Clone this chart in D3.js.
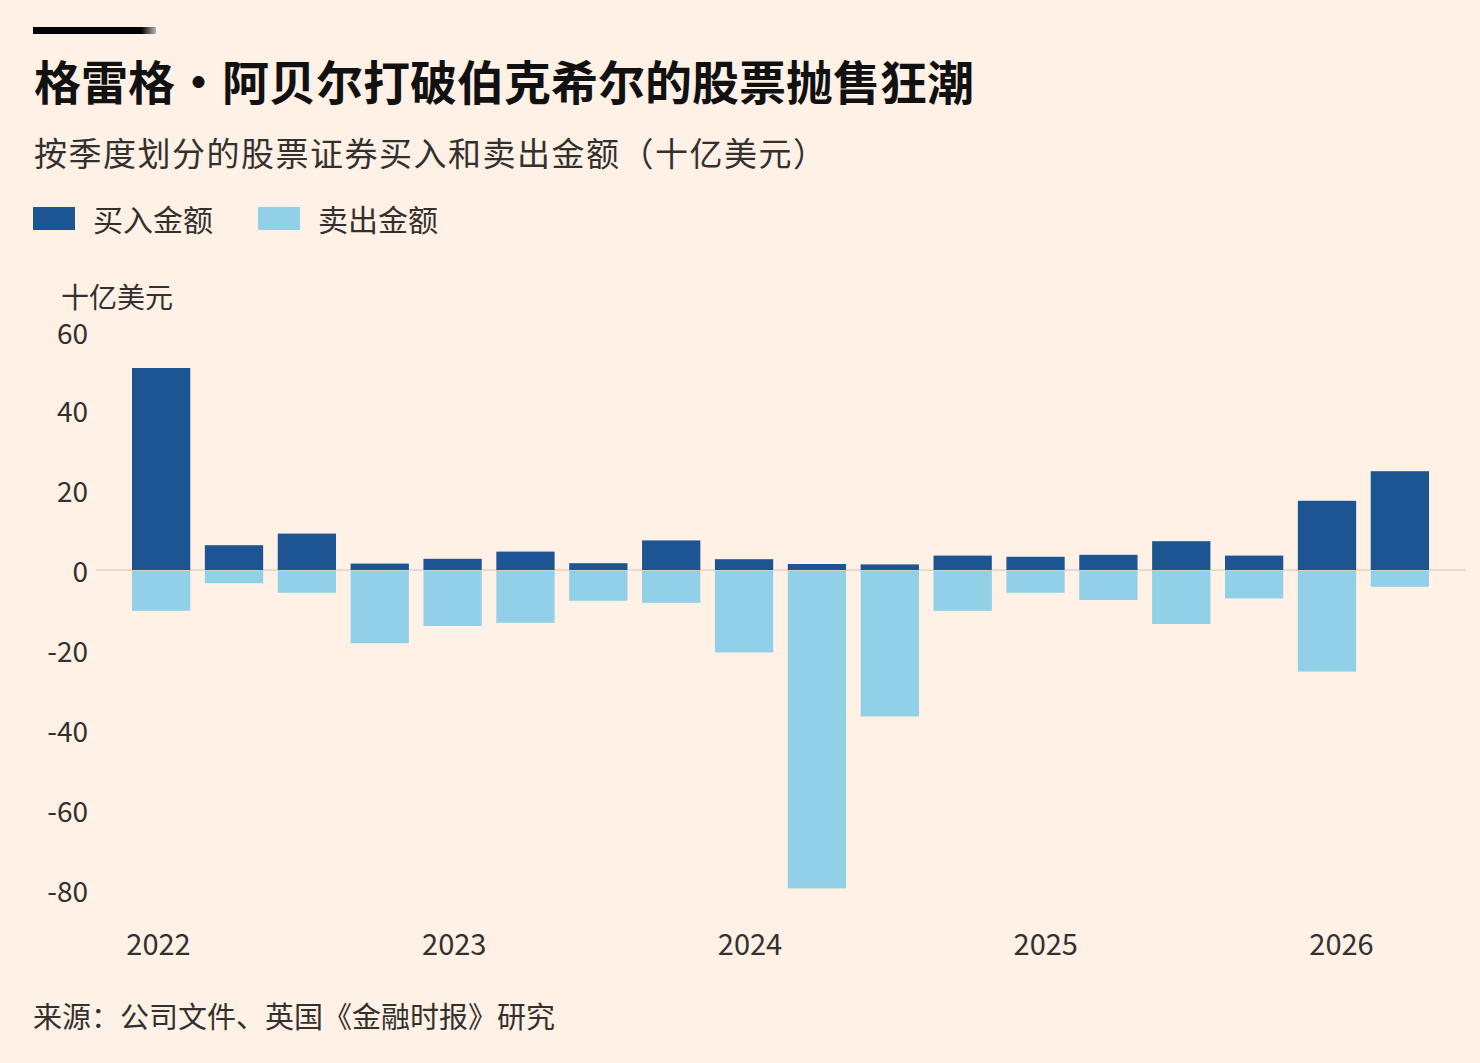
<!DOCTYPE html>
<html>
<head>
<meta charset="utf-8">
<script src="https://cdn.jsdelivr.net/npm/d3@7"></script>
<style>
  html, body { margin: 0; padding: 0; background: #fff1e5; }
  svg { display: block; font-family: "Noto Sans CJK SC", "Noto Sans", sans-serif; }
</style>
</head>
<body>
<svg id="chart" width="1480" height="1063"></svg>
<script>
// data (billion USD per quarter)
const quarters = [
  "2022 Q1", "2022 Q2", "2022 Q3", "2022 Q4",
  "2023 Q1", "2023 Q2", "2023 Q3", "2023 Q4",
  "2024 Q1", "2024 Q2", "2024 Q3", "2024 Q4",
  "2025 Q1", "2025 Q2", "2025 Q3", "2025 Q4",
  "2026 Q1", "2026 Q2"
];
const bought = [50.5, 6.2, 9.1, 1.6, 2.8, 4.6, 1.7, 7.4, 2.7, 1.5, 1.4, 3.6, 3.3, 3.8, 7.2, 3.6, 17.3, 24.7];
const sold = [-10.2, -3.3, -5.7, -18.3, -14.0, -13.2, -7.7, -8.2, -20.6, -79.6, -36.6, -10.2, -5.7, -7.5, -13.5, -7.1, -25.4, -4.2];
const yTicks = [60, 40, 20, 0, -20, -40, -60, -80];
const yearLabels = ["2022", "2023", "2024", "2025", "2026"];

const colors = {buy: "#1c5592", sell: "#91d0e6", text: "#33302e"};
const fontStack = "\"Noto Sans CJK SC\", \"Noto Sans\", sans-serif";

const svg = d3.select("#chart");

// background
svg.append("rect")
    .attr("width", 1480)
    .attr("height", 1063)
    .attr("fill", "#fff1e5");

// short black rule at top, fading out at the end
const grad = svg.append("defs").append("linearGradient")
    .attr("id", "ruleFade")
    .attr("x1", "0%").attr("x2", "100%");
grad.append("stop").attr("offset", "88%").attr("stop-color", "#000");
grad.append("stop").attr("offset", "100%").attr("stop-color", "#000").attr("stop-opacity", 0.25);
svg.append("rect")
    .attr("x", 33).attr("y", 27)
    .attr("width", 123).attr("height", 7)
    .attr("fill", "url(#ruleFade)");

// titles
svg.append("text")
    .attr("x", 34).attr("y", 100)
    .attr("font-size", 47)
    .attr("font-weight", 700)
    .attr("fill", "#111")
    .text("格雷格·阿贝尔打破伯克希尔的股票抛售狂潮");

svg.append("text")
    .attr("x", 34).attr("y", 166)
    .attr("font-size", 33)
    .attr("letter-spacing", 1.5)
    .attr("fill", colors.text)
    .text("按季度划分的股票证券买入和卖出金额（十亿美元）");

// legend
const legend = [
  {label: "买入金额", color: colors.buy, x: 33},
  {label: "卖出金额", color: colors.sell, x: 258}
];
const lg = svg.append("g").selectAll("g")
    .data(legend)
    .join("g")
    .attr("transform", d => `translate(${d.x},207)`);
lg.append("rect")
    .attr("width", 42).attr("height", 23)
    .attr("fill", d => d.color);
lg.append("text")
    .attr("x", 60).attr("y", 24)
    .attr("font-size", 30)
    .attr("fill", colors.text)
    .text(d => d.label);

// unit label
svg.append("text")
    .attr("x", 61).attr("y", 308)
    .attr("font-size", 28)
    .attr("fill", colors.text)
    .text("十亿美元");

// scales
const x = d3.scaleBand()
    .domain(quarters)
    .range([124.7, 1436.3])
    .paddingInner(0.2)
    .paddingOuter(0.1);

const y = d3.scaleLinear()
    .domain([-80, 60])
    .range([890, 330]);

// year labels sit on their own evenly spaced scale
const xYear = d3.scalePoint()
    .domain(yearLabels)
    .range([158, 1341]);

// y axis labels (no line, no ticks)
const yAxis = svg.append("g")
    .attr("transform", "translate(88,0)")
    .call(d3.axisLeft(y)
        .tickValues(yTicks)
        .tickFormat(d => String(d))
        .tickSize(0)
        .tickPadding(0));
yAxis.select(".domain").remove();
yAxis.selectAll("text")
    .attr("font-family", fontStack)
    .attr("font-size", 28)
    .attr("fill", colors.text)
    .attr("dy", d => d === 60 ? "0.48em" : "0.42em");

// bars
const rows = quarters.map((q, i) => ({q, buy: bought[i], sell: sold[i]}));

svg.append("g").selectAll("rect")
    .data(rows)
    .join("rect")
    .attr("x", d => x(d.q))
    .attr("width", x.bandwidth())
    .attr("y", y(0))
    .attr("height", d => y(d.sell) - y(0))
    .attr("fill", colors.sell);

// zero line
svg.append("line")
    .attr("x1", 96).attr("x2", 1466)
    .attr("y1", y(0)).attr("y2", y(0))
    .attr("stroke", "#ddd2c8")
    .attr("stroke-width", 1.5);

svg.append("g").selectAll("rect")
    .data(rows)
    .join("rect")
    .attr("x", d => x(d.q))
    .attr("width", x.bandwidth())
    .attr("y", d => y(d.buy))
    .attr("height", d => y(0) - y(d.buy))
    .attr("fill", colors.buy);

// x axis: year labels
const xAxis = svg.append("g")
    .attr("transform", "translate(0,930)")
    .call(d3.axisBottom(xYear).tickSize(0).tickPadding(0));
xAxis.select(".domain").remove();
xAxis.selectAll("text")
    .attr("font-family", fontStack)
    .attr("font-size", 29)
    .attr("fill", colors.text)
    .attr("dy", "0.85em");

// source
svg.append("text")
    .attr("x", 33).attr("y", 1028)
    .attr("font-size", 29)
    .attr("fill", colors.text)
    .text("来源：公司文件、英国《金融时报》研究");
</script>
</body>
</html>
